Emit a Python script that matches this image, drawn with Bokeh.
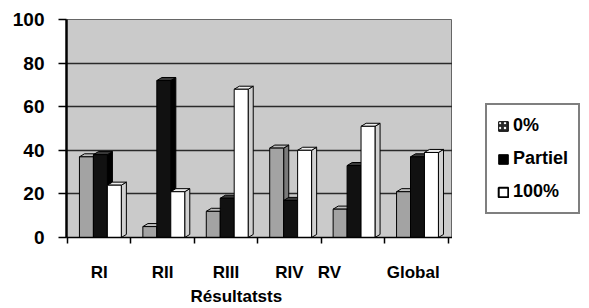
from bokeh.plotting import figure
from bokeh.layouts import row
from bokeh.models import Range1d, FixedTicker, Legend, LegendItem, Title, ColumnDataSource
from bokeh.embed import file_html
from bokeh.resources import INLINE

categories = ["RI", "RII", "RIII", "RIV", "RV", "Global"]
label_pos = [0.5, 1.5, 2.5, 3.5, 4.13, 5.45]
series_names = ["0%", "Partiel", "100%"]
zero_pct = [37, 5, 12, 41, 13, 21]
partiel = [38, 72, 18, 17, 33, 37]
full_pct = [24, 21, 68, 40, 51, 39]
y_ticks = [0, 20, 40, 60, 80, 100]

FONT = "Liberation Sans"
H = 305

p = figure(width=452, height=H, output_backend="svg", toolbar_location=None,
           x_range=Range1d(-0.016, 6.07), y_range=Range1d(0, 100),
           min_border_left=66, min_border_right=0, min_border_top=19, min_border_bottom=66)
p.border_fill_color = "white"
p.background_fill_color = "#cacaca"
p.outline_line_color = "#666666"
p.outline_line_width = 1

# grid
p.xgrid.visible = False
p.ygrid.ticker = FixedTicker(ticks=y_ticks)
p.ygrid.grid_line_color = "#2a2a2a"
p.ygrid.grid_line_width = 1.6

# y axis
p.yaxis.ticker = FixedTicker(ticks=y_ticks)
p.yaxis.major_label_text_font = FONT
p.yaxis.major_label_text_font_style = "bold"
p.yaxis.major_label_text_font_size = "19px"
p.yaxis.major_label_text_color = "black"
p.yaxis.axis_line_width = 2.5
p.yaxis.axis_line_color = "black"
p.yaxis.major_tick_out = 8
p.yaxis.major_tick_in = 0
p.yaxis.major_tick_line_width = 1.5
p.yaxis.minor_tick_line_color = None
p.yaxis.major_label_standoff = 14

# x axis
p.xaxis.ticker = FixedTicker(ticks=label_pos, minor_ticks=list(range(0, 7)))
p.xaxis.major_label_overrides = {pos: c for pos, c in zip(label_pos, categories)}
p.xaxis.major_label_text_font = FONT
p.xaxis.major_label_text_font_style = "bold"
p.xaxis.major_label_text_font_size = "17px"
p.xaxis.major_label_text_color = "black"
p.xaxis.major_tick_line_color = None
p.xaxis.major_tick_out = 0
p.xaxis.major_tick_in = 0
p.xaxis.minor_tick_out = 6
p.xaxis.minor_tick_in = 0
p.xaxis.minor_tick_line_color = "black"
p.xaxis.minor_tick_line_width = 1.5
p.xaxis.axis_line_color = "black"
p.xaxis.axis_line_width = 1.5
p.xaxis.major_label_standoff = 19

# axis title (below the category labels)
p.add_layout(Title(text="Résultatsts", align="left", offset=124, standoff=0,
                   text_font=FONT, text_font_style="bold", text_font_size="17px",
                   text_color="black"), "below")

# 3D-like bars
dx, dy = 0.08, 1.4
width = 0.22
offsets = [0.188, 0.408, 0.628]
styles = [
    dict(front="#a3a3a3", side="#7a7a7a", top="#bdbdbd"),
    dict(front="#111111", side="#000000", top="#3a3a3a"),
    dict(front="#ffffff", side="#d0d0d0", top="#eeeeee"),
]
for vals, off, st in zip([zero_pct, partiel, full_pct], offsets, styles):
    lefts = [i + off for i in range(len(vals))]
    rights = [l + width for l in lefts]
    side_xs = [[r, r + dx, r + dx, r] for r in rights]
    side_ys = [[0, dy, v + dy, v] for v in vals]
    top_xs = [[l, r, r + dx, l + dx] for l, r in zip(lefts, rights)]
    top_ys = [[v, v, v + dy, v + dy] for v in vals]
    p.patches(side_xs, side_ys, fill_color=st["side"], line_color="black", line_width=1)
    p.patches(top_xs, top_ys, fill_color=st["top"], line_color="black", line_width=1)
    src = ColumnDataSource(dict(left=lefts, right=rights, top=vals))
    p.quad(left="left", right="right", bottom=0, top="top", source=src,
           fill_color=st["front"], line_color="black", line_width=1)

# legend panel (same top/bottom borders as the chart, so the row aligns them)
q = figure(width=129, height=H, output_backend="svg", toolbar_location=None,
           x_axis_type=None, y_axis_type=None, x_range=Range1d(0, 1), y_range=Range1d(0, 1),
           min_border_left=0, min_border_top=19, min_border_right=0, min_border_bottom=66)
q.outline_line_color = None
q.background_fill_color = "white"
q.border_fill_color = "white"
q.xgrid.visible = False
q.ygrid.visible = False
# off-range swatches, used only for the legend's glyphs
leg0 = q.quad(left=[5], right=[6], bottom=[5], top=[6], fill_color="#2a2a2a",
              line_color="black", hatch_pattern="dot", hatch_color="white", hatch_scale=5)
leg1 = q.quad(left=[5], right=[6], bottom=[5], top=[6], fill_color="black", line_color="black")
leg2 = q.quad(left=[5], right=[6], bottom=[5], top=[6], fill_color="white",
              line_color="black", line_width=2)

legend = Legend(items=[LegendItem(label=series_names[0], renderers=[leg0]),
                       LegendItem(label=series_names[1], renderers=[leg1]),
                       LegendItem(label=series_names[2], renderers=[leg2])],
                location=(33, 23))
legend.label_text_font = FONT
legend.label_text_font_style = "bold"
legend.label_text_font_size = "18px"
legend.label_text_color = "black"
legend.glyph_width = 12
legend.glyph_height = 12
legend.label_height = 20
legend.label_standoff = 4
legend.spacing = 12
legend.padding = 10
legend.margin = 0
legend.border_line_color = "black"
legend.border_line_width = 2
legend.background_fill_color = "white"
legend.background_fill_alpha = 1
q.add_layout(legend)

layout = row(p, q)
open("out.html", "w").write(file_html(layout, INLINE))
